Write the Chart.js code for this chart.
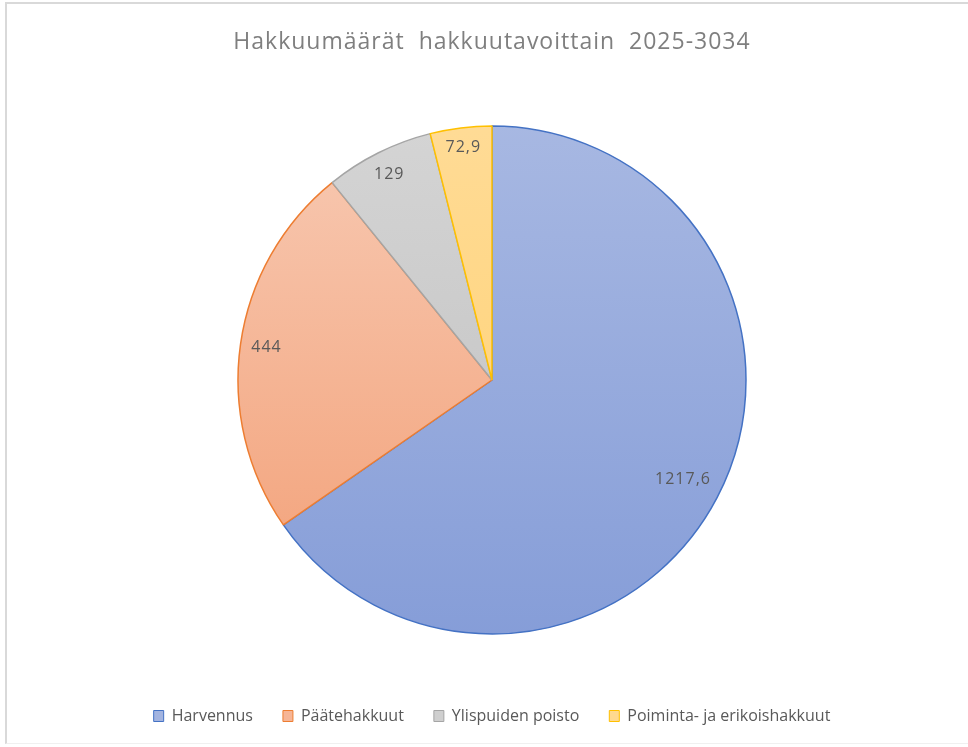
<!DOCTYPE html>
<html>
<head>
<meta charset="utf-8">
<script src="https://cdn.jsdelivr.net/npm/chart.js@4.4.1/dist/chart.umd.min.js"></script>
<style>
  html, body { margin: 0; padding: 0; background: #ffffff; overflow: hidden; }
  #frame { position: absolute; left: 5px; top: 2px; width: 1000px; height: 742px;
           border-left: 2px solid #d9d9d9; border-top: 2px solid #d9d9d9; border-bottom: 1px solid #f0f0f0; box-sizing: border-box; }
  #wrap { position: absolute; left: 0; top: 0; width: 968px; height: 747px; }
</style>
</head>
<body>
<div id="frame"></div>
<div id="wrap"><canvas id="c" width="968" height="747"></canvas></div>
<script>
const chartTitle = 'Hakkuumäärät  hakkuutavoittain  2025-3034';
const categories = ['Harvennus', 'Päätehakkuut', 'Ylispuiden poisto', 'Poiminta- ja erikoishakkuut'];
const values = [1217.6, 444, 129, 72.9];

const borderColors = ['#4472C4', '#ED7D31', '#A5A5A5', '#FFC000'];
const topColors = ['#AABAE3', '#F8CDB8', '#D6D6D6', '#FFDC99'];
const bottomColors = ['#839BD7', '#F29B70', '#BDBDBD', '#FFCF6A'];
const legendFill = ['#A3B4E0', '#F6B596', '#CFCFCF', '#FFD98F'];

function fillFor(ctx) {
  const chart = ctx.chart;
  const area = chart.chartArea;
  if (!area) return topColors[ctx.dataIndex];
  const el = chart.getDatasetMeta(0).data[ctx.dataIndex];
  const r = el && el.outerRadius ? el.outerRadius : (area.bottom - area.top) / 2;
  const cy = (area.top + area.bottom) / 2;
  const g = chart.ctx.createLinearGradient(0, cy - r, 0, cy + r);
  g.addColorStop(0, topColors[ctx.dataIndex]);
  g.addColorStop(1, bottomColors[ctx.dataIndex]);
  return g;
}

// letter spacing only for the title block
const titleSpacingPlugin = {
  id: 'titleSpacing',
  afterLayout(chart) {
    const tb = chart.titleBlock;
    if (tb && !tb._spaced) {
      const orig = tb.draw;
      tb.draw = function (area) {
        const c = chart.ctx;
        c.save();
        c.letterSpacing = '1px';
        orig.call(tb, area);
        c.restore();
      };
      tb._spaced = true;
    }
  }
};

const labelPlugin = {
  id: 'sliceLabels',
  afterDatasetsDraw(chart) {
    const ctx = chart.ctx;
    const meta = chart.getDatasetMeta(0);
    ctx.save();
    ctx.letterSpacing = '1px';
    ctx.font = '16px "Open Sans", sans-serif';
    ctx.fillStyle = '#595959';
    ctx.textAlign = 'center';
    ctx.textBaseline = 'middle';
    meta.data.forEach((arc, i) => {
      const p = arc.getProps(['x', 'y', 'startAngle', 'endAngle', 'outerRadius'], true);
      const mid = (p.startAngle + p.endAngle) / 2;
      const txt = String(values[i]).replace('.', ',');
      const w = ctx.measureText(txt).width;
      const c = Math.cos(mid), s = Math.sin(mid);
      const proj = Math.abs(c) * w / 2 + Math.abs(s) * 8;
      const rr = p.outerRadius - 10 - proj;
      ctx.fillText(txt, p.x + c * rr, p.y + s * rr);
    });
    ctx.restore();
  }
};

new Chart(document.getElementById('c'), {
  type: 'pie',
  data: {
    labels: categories,
    datasets: [{
      data: values,
      backgroundColor: fillFor,
      borderColor: borderColors,
      borderWidth: 1.5,
      radius: 254
    }]
  },
  options: {
    responsive: false,
    animation: false,
    rotation: 0,
    layout: { padding: { left: 16, right: 0, top: 0, bottom: 13 } },
    plugins: {
      title: {
        display: true,
        text: chartTitle,
        color: '#7F7F7F',
        font: { family: '"Open Sans", sans-serif', size: 23, weight: 'normal' },
        padding: { top: 29, bottom: 25.4 }
      },
      legend: {
        position: 'bottom',
        labels: {
          color: '#595959',
          font: { family: '"Open Sans", sans-serif', size: 16 },
          boxWidth: 10,
          boxHeight: 11,
          padding: 30,
          generateLabels(chart) {
            return categories.map((c, i) => ({
              text: c,
              fillStyle: legendFill[i],
              strokeStyle: borderColors[i],
              lineWidth: 1,
              fontColor: '#595959',
              hidden: false,
              index: i
            }));
          }
        }
      },
      tooltip: { enabled: false }
    }
  },
  plugins: [titleSpacingPlugin, labelPlugin]
});
</script>
</body>
</html>
